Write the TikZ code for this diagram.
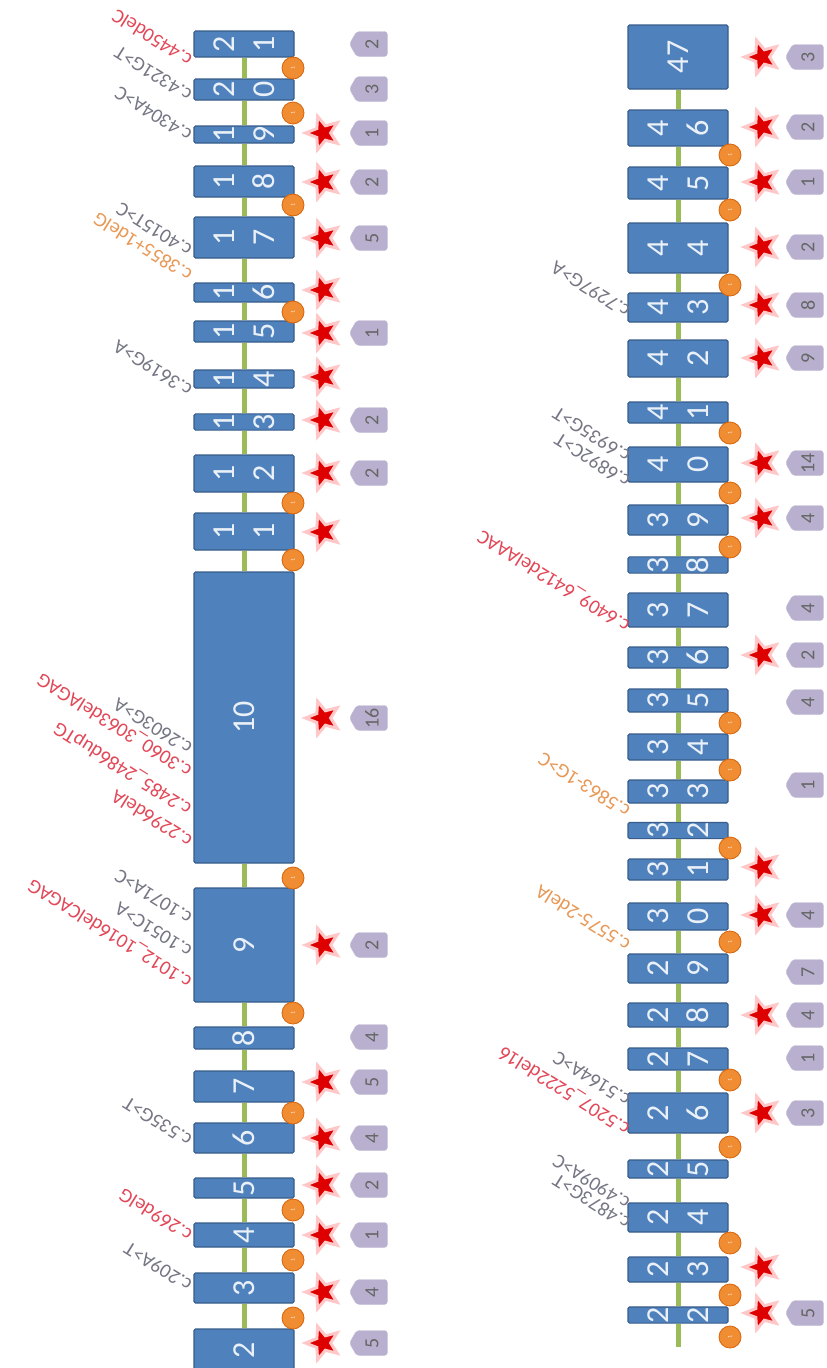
\documentclass[tikz,border=0pt]{standalone}
\usepackage{fontspec}
\setmainfont{Carlito}
\usepackage{graphicx}
\usetikzlibrary{shapes.geometric, shapes.symbols}

\definecolor{exonblue}{RGB}{79,129,189}
\definecolor{exonedge}{RGB}{56,93,138}
\definecolor{introngreen}{RGB}{155,187,89}
\definecolor{spliceorange}{RGB}{240,140,50}
\definecolor{spliceedge}{RGB}{215,100,10}
\definecolor{starred}{RGB}{222,0,0}
\definecolor{famgray}{RGB}{184,176,206}
\definecolor{labred}{RGB}{226,72,88}
\definecolor{labgray}{RGB}{118,118,132}
\definecolor{laborange}{RGB}{232,152,84}

\begin{document}
\begin{tikzpicture}[x=1pt, y=-1pt,
  exon/.style={rotate=90, draw=exonedge, line width=1.2pt, fill=exonblue, rounded corners=1.5pt, minimum height=100pt, inner sep=0pt, align=center, text=white!88!exonblue, font=\fontsize{32}{40}\selectfont},
  intron/.style={draw=introngreen, line width=5pt},
  splice/.style={circle, fill=spliceorange, draw=spliceedge, line width=0.8pt, minimum size=22pt, inner sep=0pt, rotate=90, font=\fontsize{6}{6}\selectfont, text=white!80!spliceorange},
  mutstar/.style={star, star points=5, star point ratio=2.3, shape border rotate=90, fill=starred, draw=red!22, line width=3pt, minimum size=35pt, inner sep=0pt},
  famflag/.style={signal, signal to=west, signal pointer angle=120, fill=famgray, draw=famgray!80, rounded corners=3pt, minimum width=38pt, minimum height=25pt, inner sep=0pt, font=\fontsize{20}{20}\selectfont, text=black!60},
  varlabel/.style={rotate=148, anchor=west, inner sep=0pt, font=\fontsize{20}{20}\selectfont}
]
\clip (0,0) rectangle (827,1368);
\fill[white] (0,0) rectangle (827,1368);

\foreach \n/\a/\b/\yc/\h in {21/2/1/44/26, 20/2/0/89.5/21, 19/1/9/134.5/17, 18/1/8/181.5/31, 17/1/7/237.5/41, 16/1/6/292.5/19, 15/1/5/331.5/21, 14/1/4/379/18, 13/1/3/422/14, 12/1/2/473.5/37, 11/1/1/531.5/37}
  \node[exon, minimum width=\h*1pt] (e\n) at (244,\yc) {\a\\\b};
\foreach \n/\yc/\h in {10/717.5/291, 9/945/114, 8/1038/22, 7/1086.5/31, 6/1138/30, 5/1188/20, 4/1235/24, 3/1288/30, 2/1350/42}
  \node[exon, minimum width=\h*1pt] (e\n) at (244,\yc) {\n};

\node[exon, minimum width=64pt] (e47) at (678,57) {47};
\foreach \n/\a/\b/\yc/\h in {46/4/6/128/36, 45/4/5/183/32, 44/4/4/248/50, 43/4/3/307.5/29, 42/4/2/358.5/37, 41/4/1/412.5/21, 40/4/0/464.5/35, 39/3/9/520/30, 38/3/8/565/16, 37/3/7/610/34, 36/3/6/657.5/21, 35/3/5/700.5/23, 34/3/4/747/26, 33/3/3/791.5/23, 32/3/2/830.5/13, 31/3/1/869.5/21, 30/3/0/916.5/27, 29/2/9/968.5/29, 28/2/8/1015/24, 27/2/7/1059/22, 26/2/6/1113/40, 25/2/5/1169/18, 24/2/4/1217.5/29, 23/2/3/1269.5/25, 22/2/2/1315/16}
  \node[exon, minimum width=\h*1pt] (e\n) at (678,\yc) {\a\\\b};
\coordinate (rend) at (678,1347);

\foreach \u [evaluate=\u as \l using int(\u-1)] in {21,...,3}
  \draw[intron] (e\u) -- (e\l);
\foreach \u [evaluate=\u as \l using int(\u-1)] in {47,...,23}
  \draw[intron] (e\u) -- (e\l);
\draw[intron] (e22) -- (rend);

\foreach \y [count=\i] in {68,113,205,312,503,560,878,1013,1113,1210,1260,1318}
  \node[splice] (sl\i) at (293,\y) {1};
\foreach \y [count=\i] in {155,210,285,433,493,547,723,770,848,942,1080,1147,1243,1295,1337}
  \node[splice] (sr\i) at (730,\y) {1};

\foreach \y [count=\i] in {133,182,238,290,333,377,420,473,532,718,945,1082,1138,1185,1235,1292,1343}
  \node[mutstar] (ml\i) at (323,\y) {};
\foreach \y [count=\i] in {57,127,182,247,305,358,463,518,655,867,915,1015,1113,1267,1313}
  \node[mutstar] (mr\i) at (762,\y) {};

\foreach \y/\k [count=\i] in {44/2, 89/3, 133/1, 182/2, 238/5, 333/1, 420/2, 473/2, 718/16, 945/2, 1037/4, 1082/5, 1138/4, 1185/2, 1235/1, 1292/4, 1343/5}
  \node[famflag] (fl\i) at (372,\y) {\rotatebox{90}{\k}};
\foreach \y/\k [count=\i] in {57/3, 127/2, 182/1, 247/2, 305/8, 358/9, 463/14, 518/4, 608/4, 655/2, 702/4, 785/1, 915/4, 972/7, 1015/4, 1058/1, 1113/3, 1313/5}
  \node[famflag] (fr\i) at (808,\y) {\rotatebox{90}{\k}};

\foreach \y/\c/\t [count=\i] in {62/labred/c.4450delC, 97/labgray/c.4321G>T, 137/labgray/c.4304A>C, 252/labgray/c.4015T>C, 277/laborange/c.3855+1delG, 392/labgray/c.3619G>A, 750/labgray/c.2603G>A, 772/labred/c.3060\_3063delAGAG, 810/labred/c.2485\_2486dupTG, 843/labred/c.2296delA, 920/labgray/c.1071A>C, 953/labgray/c.1051C>A, 983/labred/c.1012\_1016delCAGAG, 1142/labgray/c.535G>T, 1237/labred/c.269delG, 1287/labgray/c.209A>T}
  \node[varlabel, text=\c] (vl\i) at (190,\y) {\t};
\foreach \y/\c/\t [count=\i] in {313/labgray/c.7297G>A, 458/labgray/c.6935G>T, 483/labgray/c.6892C>T, 627/labred/c.6409\_6412delAAAC, 813/laborange/c.5863-1G>C, 947/laborange/c.5575-2delA, 1102/labgray/c.5164A>C, 1130/labred/c.5207\_5222del16, 1205/labgray/c.4909A>C, 1225/labgray/c.4873G>T}
  \node[varlabel, text=\c] (vr\i) at (628,\y) {\t};
\end{tikzpicture}
\end{document}
